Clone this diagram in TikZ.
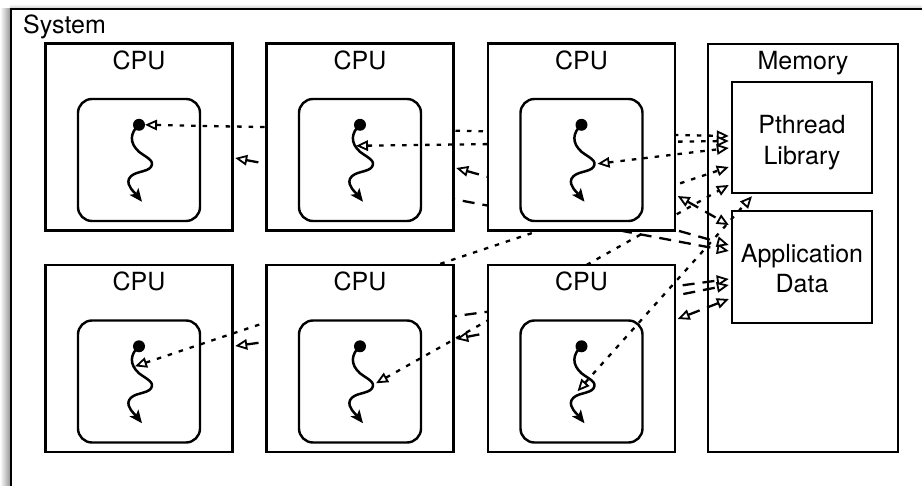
\documentclass[tikz,border=0pt]{standalone}
\usepackage{fontspec}
\setmainfont{TeX Gyre Heros}
\usetikzlibrary{arrows.meta,calc}

\tikzset{
  box/.style={draw, line width=2.4pt, fill=white, inner sep=0pt},
  cpubox/.style={box, minimum width=187pt, minimum height=187pt},
  core/.style={box, rounded corners=14pt, minimum width=122pt, minimum height=122pt},
  lbl/.style={font=\fontsize{25}{30}\selectfont, anchor=base, inner sep=0pt},
  hollow/.tip={Triangle[fill=white,length=12pt,width=10.5pt,line width=1.8pt]},
  libconn/.style={line width=2.3pt, dash pattern=on 4.5pt off 7pt, hollow-hollow},
  dataconn/.style={line width=2.3pt, dash pattern=on 12pt off 8pt, hollow-hollow},
  thread/.pic={
    \fill (0,0) circle[radius=6pt];
    \draw[line width=2.5pt, -{Stealth[length=13pt,width=11pt,inset=3pt]}]
      (0,0) .. controls (-9,8) and (-10,18) .. (0,27)
            .. controls (8,33) and (16,36) .. (12,42)
            .. controls (8,48) and (-6,46) .. (-10,54)
            .. controls (-13,61) and (-4,68) .. (3,77);
  }
}

% one processor: frame, caption, core and its thread
\newcommand{\drawcpu}[3]{%
  \node[cpubox] (cpu#1) at (#2,#3) {};
  \node[lbl] (cpulbl#1) at ($(cpu#1.north)+(0,27)$) {CPU};
  \node[core] (core#1) at ($(cpu#1.center)+(0,23)$) {};
  \coordinate (t#1) at ($(core#1.north)+(0,27)$);
  \pic at (t#1) {thread};
}

\begin{document}
\begin{tikzpicture}[x=1pt,y=-1pt]
\useasboundingbox (0,0) rectangle (922,486);
\clip (0,0) rectangle (922,486);

% soft shadow of the system frame
\shade[left color=white, right color=black!40] (0,9) rectangle (10,486);
\shade[top color=white, bottom color=black!18] (10,4) rectangle (922,8);

% system frame
\node[box, minimum width=940pt, minimum height=510pt] (system) at (481,264) {};
\node[lbl, anchor=base west] (systxt) at (23,34) {System};

% memory
\node[box, minimum width=190pt, minimum height=408pt] (memory) at (803,248) {};
\node[lbl] (memtxt) at ($(memory.north)+(0,27)$) {Memory};
\node[box, minimum width=140pt, minimum height=111pt] (pthread) at (802,137.5) {};
\node[lbl] (ptxta) at (802,134) {Pthread};
\node[lbl] (ptxtb) at (802,165) {Library};
\node[box, minimum width=140pt, minimum height=112pt] (appdata) at (802,267) {};
\node[lbl] (atxta) at (802,263) {Application};
\node[lbl] (atxtb) at (802,293) {Data};

% processor 1 and its accesses
\drawcpu{1}{139}{137}
\draw[libconn] ($(t1)+(6,0)$) -- ($(pthread.west)+(-2,-1.5)$);
\draw[dataconn] ($(cpu1.east)+(1.5,21)$) -- ($(appdata.west)+(-2,-16)$);

% processor 4
\drawcpu{4}{139}{358.5}
\draw[libconn] ($(t4)+(-4,20)$) -- ($(pthread.west)+(-2,29.5)$);
\draw[dataconn] ($(cpu4.east)+(1.5,-12.5)$) -- ($(appdata.west)+(-2,12)$);

% processor 2
\drawcpu{2}{360}{137}
\draw[libconn] ($(t2)+(-4,21)$) -- ($(pthread.west)+(-2,3.5)$);
\draw[dataconn] ($(cpu2.east)+(1.5,31)$) -- ($(appdata.west)+(-2,-22)$);

% processor 5
\drawcpu{5}{360}{358.5}
\draw[libconn] ($(t5)+(16,37)$) -- ($(pthread.west)+(-2,47.5)$);
\draw[dataconn] ($(cpu5.east)+(1.5,-19.5)$) -- ($(appdata.west)+(-2,18)$);

% processor 3
\drawcpu{3}{581.5}{137}
\draw[libconn] ($(t3)+(16,39)$) -- ($(pthread.west)+(-2,10.5)$);
\draw[dataconn] ($(cpu3.east)+(1.5,59)$) -- ($(appdata.west)+(-2,-42)$);

% processor 6
\drawcpu{6}{581.5}{358.5}
\draw[libconn] ($(t6)+(-4,45)$) -- ($(pthread.south)+(-50,2)$);
\draw[dataconn] ($(cpu6.east)+(1.5,-39.5)$) -- ($(appdata.west)+(-2,32)$);
\end{tikzpicture}
\end{document}
